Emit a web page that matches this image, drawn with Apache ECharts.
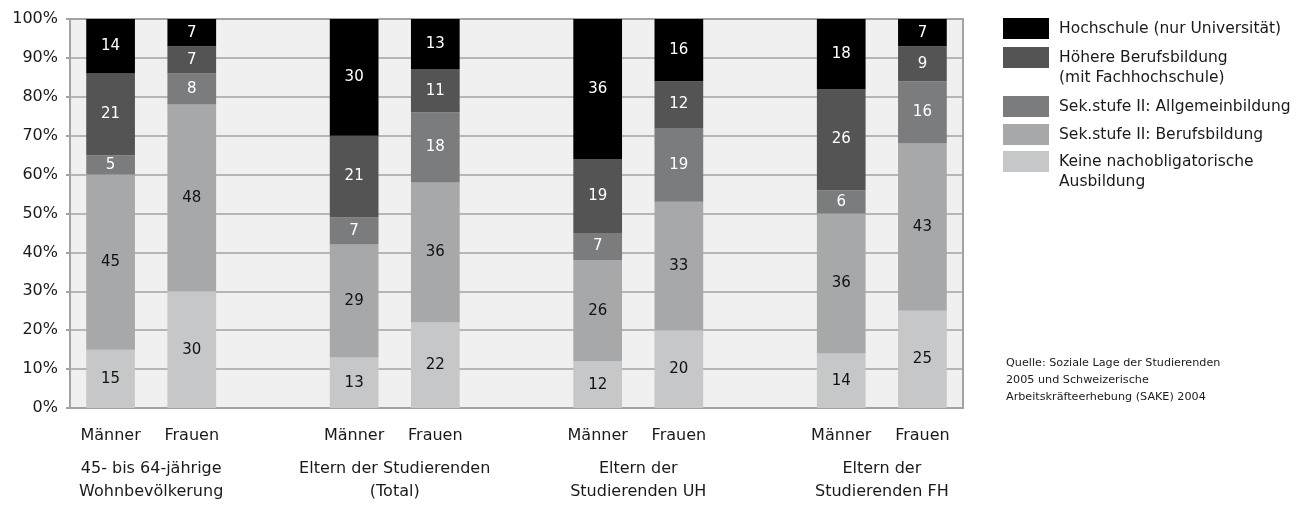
<!DOCTYPE html>
<html>
<head>
<meta charset="utf-8">
<script src="https://cdn.jsdelivr.net/npm/echarts@6/dist/echarts.min.js"></script>
<style>
  html, body { margin: 0; padding: 0; background: #fff; }
  #chart { width: 1313px; height: 509px; }
</style>
</head>
<body>
<div id="chart"></div>
<script>
// bars: Männer / Frauen per group, '' = spacer slot between groups
const categories = ['Männer', 'Frauen', '', 'Männer', 'Frauen', '', 'Männer', 'Frauen', '', 'Männer', 'Frauen'];
const groups = ['45- bis 64-jährige\nWohnbevölkerung', 'Eltern der Studierenden\n(Total)', 'Eltern der\nStudierenden UH', 'Eltern der\nStudierenden FH'];

const keine = [15, 30, '-', 13, 22, '-', 12, 20, '-', 14, 25];
const sekBeruf = [45, 48, '-', 29, 36, '-', 26, 33, '-', 36, 43];
const sekAllg = [5, 8, '-', 7, 18, '-', 7, 19, '-', 6, 16];
const hoehere = [21, 7, '-', 21, 11, '-', 19, 12, '-', 26, 9];
const hochschule = [14, 7, '-', 30, 13, '-', 36, 16, '-', 18, 7];

const yTicks = [0, 10, 20, 30, 40, 50, 60, 70, 80, 90, 100];

const FONT = '"DejaVu Sans", sans-serif';

const seriesDefs = [
  { name: 'Keine nachobligatorische\nAusbildung', data: keine, color: '#c6c7c8', label: '#111' },
  { name: 'Sek.stufe II: Berufsbildung', data: sekBeruf, color: '#a7a8a9', label: '#111' },
  { name: 'Sek.stufe II: Allgemeinbildung', data: sekAllg, color: '#7b7c7d', label: '#fff' },
  { name: 'Höhere Berufsbildung\n(mit Fachhochschule)', data: hoehere, color: '#545455', label: '#fff' },
  { name: 'Hochschule (nur Universität)', data: hochschule, color: '#000000', label: '#fff' }
];

const series = seriesDefs.map(s => ({
  name: s.name,
  type: 'bar',
  stack: 'total',
  barWidth: '60%',
  data: s.data,
  itemStyle: { color: s.color },
  label: {
    show: true,
    position: 'inside',
    color: s.label,
    fontFamily: FONT,
    fontSize: 15
  }
}));

// one legend per entry so each icon lines up with the first text line
const legendTops = [18, 47, 96, 124, 151];
const legendOrder = seriesDefs.slice().reverse();
const legends = legendOrder.map((s, i) => {
  const multi = s.name.indexOf('\n') >= 0;
  return {
    orient: 'vertical',
    left: 1003,
    top: multi ? legendTops[i] - 19.5 : legendTops[i],
    padding: 0,
    itemWidth: 46,
    itemHeight: 21,
    selectedMode: false,
    data: [{ name: s.name, icon: 'rect' }],
    // leading blank line keeps the first line level with the icon
    formatter: name => (multi ? '\n' + name : name),
    textStyle: {
      fontFamily: FONT,
      fontSize: 15.5,
      color: '#1a1a1a',
      lineHeight: 20,
      padding: [0, 0, 0, 5]
    }
  };
});

const chart = echarts.init(document.getElementById('chart'));
chart.setOption({
  animation: false,
  backgroundColor: '#fff',
  title: {
    text: 'Quelle: Soziale Lage der Studierenden\n2005 und Schweizerische\nArbeitskräfteerhebung (SAKE) 2004',
    left: 1006,
    top: 355,
    padding: 0,
    textStyle: { fontFamily: FONT, fontSize: 11.2, fontWeight: 'normal', color: '#1a1a1a', lineHeight: 17 }
  },
  legend: legends,
  grid: {
    left: 70, right: 350, top: 19, bottom: 101,
    show: true,
    backgroundColor: '#eff0ef',
    borderColor: '#a3a3a3',
    borderWidth: 2
  },
  xAxis: [
    {
      type: 'category',
      data: categories,
      axisLine: { lineStyle: { color: '#a3a3a3', width: 2 } },
      axisTick: { show: false },
      axisLabel: { fontFamily: FONT, fontSize: 16, color: '#1a1a1a', margin: 20, interval: 0 }
    },
    {
      type: 'value',
      min: 0, max: categories.length, interval: 1,
      position: 'bottom',
      axisLine: { show: false },
      axisTick: { show: false },
      splitLine: { show: false },
      axisLabel: {
        fontFamily: FONT, fontSize: 16, color: '#1a1a1a', margin: 49, lineHeight: 23,
        formatter: v => (v % 3 === 1 ? groups[(v - 1) / 3] || '' : '')
      }
    }
  ],
  yAxis: {
    type: 'value',
    min: yTicks[0], max: yTicks[yTicks.length - 1], interval: 10,
    axisLine: { show: true, lineStyle: { color: '#a3a3a3', width: 2 } },
    axisTick: { show: true, length: 4, lineStyle: { color: '#a3a3a3', width: 2 } },
    splitLine: { lineStyle: { color: '#a3a3a3', width: 1.5 } },
    axisLabel: { fontFamily: FONT, fontSize: 16, color: '#1a1a1a', margin: 12, formatter: '{value}%' }
  },
  series: series
});
</script>
</body>
</html>
